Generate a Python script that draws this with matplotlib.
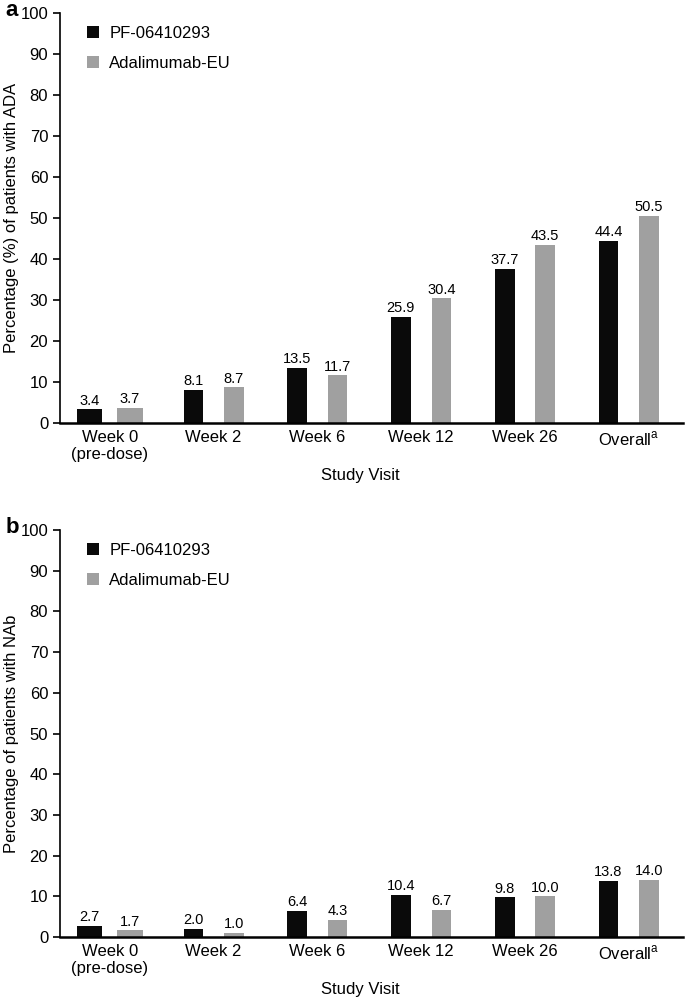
import matplotlib
matplotlib.use("Agg")
import matplotlib.pyplot as plt
import numpy as np

plt.rcParams['font.family'] = ['Liberation Sans', 'DejaVu Sans']

visits = ["Week 0\n(pre-dose)", "Week 2", "Week 6", "Week 12", "Week 26",
          r"Overall$^\mathregular{a}$"]
series_names = ["PF-06410293", "Adalimumab-EU"]

# panel a: ADA
ada_pf = [3.4, 8.1, 13.5, 25.9, 37.7, 44.4]
ada_eu = [3.7, 8.7, 11.7, 30.4, 43.5, 50.5]

# panel b: NAb
nab_pf = [2.7, 2.0, 6.4, 10.4, 9.8, 13.8]
nab_eu = [1.7, 1.0, 4.3, 6.7, 10.0, 14.0]

colors = ["#0a0a0a", "#a0a0a0"]
# the first group is drawn a bit wider in the original figure
bar_w = [0.245, 0.19, 0.19, 0.19, 0.19, 0.19]


def draw_panel(ax, pf, eu, ylabel, letter):
    x = np.arange(len(visits))
    b1 = ax.bar(x - 0.195, pf, bar_w, color=colors[0], label=series_names[0])
    b2 = ax.bar(x + 0.195, eu, bar_w, color=colors[1], label=series_names[1])
    for bars, vals in [(b1, pf), (b2, eu)]:
        for rect, v in zip(bars, vals):
            ax.text(rect.get_x() + rect.get_width() / 2, v + 0.4, f"{v:.1f}",
                    ha="center", va="bottom", fontsize=10.5)
    ax.set_xlim(-0.48, 5.52)
    ax.set_ylim(0, 100)
    ax.set_yticks(range(0, 101, 10))
    ax.set_xticks(x)
    ax.set_xticklabels(visits, fontsize=12)
    ax.tick_params(axis="x", length=0, pad=5)
    ax.tick_params(axis="y", labelsize=12, length=5, width=1.2, direction="out")
    ax.spines["top"].set_visible(False)
    ax.spines["right"].set_visible(False)
    ax.spines["left"].set_linewidth(1.2)
    ax.spines["bottom"].set_linewidth(1.8)
    ax.set_ylabel(ylabel, fontsize=12, labelpad=1)
    ax.set_xlabel("Study Visit", fontsize=12, labelpad=4)
    ax.xaxis.label.set_x(0.483)
    ax.legend(loc="upper left", bbox_to_anchor=(0.02, 1.005), frameon=False,
              fontsize=12, handlelength=0.7, handleheight=0.7,
              handletextpad=0.6, labelspacing=0.9)
    ax.text(-0.088, 1.005, letter, transform=ax.transAxes, fontsize=16,
            fontweight="bold", ha="left", va="center")


fig = plt.figure(figsize=(6.85, 9.98), dpi=100)
ax1 = fig.add_axes([0.0876, 0.576, 0.909, 0.411])
ax2 = fig.add_axes([0.0876, 0.061, 0.909, 0.408])

draw_panel(ax1, ada_pf, ada_eu, "Percentage (%) of patients with ADA", "a")
draw_panel(ax2, nab_pf, nab_eu, "Percentage of patients with NAb", "b")

fig.savefig("out.png", dpi=100)
